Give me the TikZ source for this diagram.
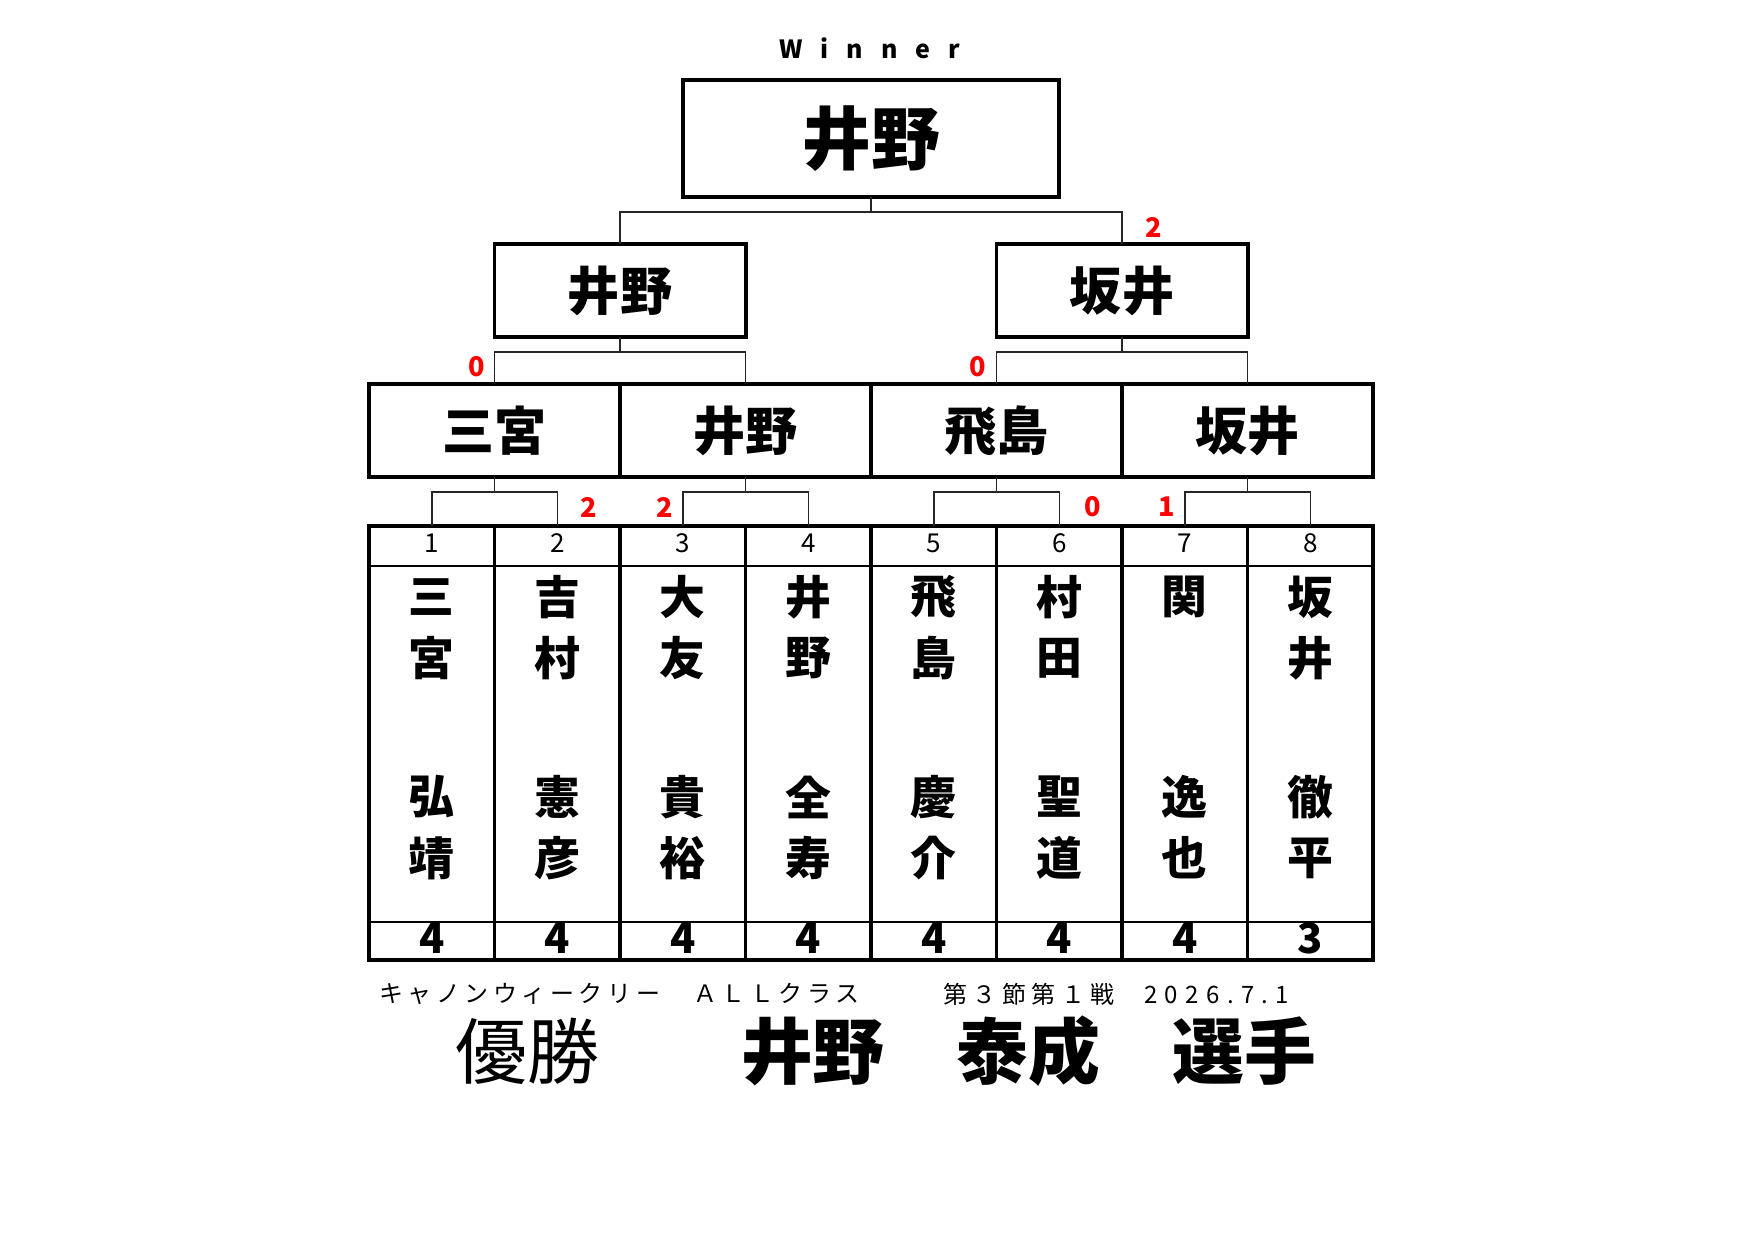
\documentclass[tikz,border=0pt]{standalone}
\usepackage{fontspec}
\setmainfont{Noto Sans CJK JP}
\usetikzlibrary{calc,positioning}

% bracket from a winner box down to its two players
\newcommand{\duel}[3]{%
  \draw[link] (#1.south) -- ++(0,15) coordinate (#1j) (#2.north) |- (#1j) -| (#3.north);}

\begin{document}
\begin{tikzpicture}[x=0.48pt, y=-0.48pt,
    box/.style={draw, line width=1.9pt, inner sep=0pt, outer sep=0pt,
      minimum width=120.5pt, minimum height=44.6pt,
      font=\fontsize{25}{30}\selectfont\bfseries},
    col/.style={draw, line width=1.9pt, inner sep=0pt, outer sep=0pt,
      minimum width=60.24pt, minimum height=208.3pt},
    link/.style={line width=0.72pt, black!85},
    sep/.style={line width=0.72pt},
    gamewin/.style={text=red, inner sep=0pt, font=\fontsize{13}{15}\selectfont\bfseries},
    seat/.style={inner sep=0pt, font=\fontsize{12.5}{14}\selectfont},
    kanji/.style={inner sep=0pt, font=\fontsize{22}{26}\selectfont\bfseries},
    wins/.style={inner sep=0pt, font=\fontsize{20}{24}\selectfont\bfseries},
    tag/.style={inner sep=0pt, anchor=west,
      font=\fontsize{11.5}{14}\selectfont\addfontfeature{LetterSpace=19}}]
  \useasboundingbox (0,0) rectangle (1754,1240);

  % title and champion
  \node[anchor=west, inner sep=0pt,
    font=\fontsize{12}{14}\selectfont\bfseries\addfontfeature{LetterSpace=72}] (win) at (779,48) {Winner};
  \node[box, minimum width=180.5pt, minimum height=56.2pt,
    font=\fontsize{33}{40}\selectfont\bfseries] (fin) at (871,138.5) {井野};

  % semi finals
  \node[box] (sf1) at (620,290.5) {井野};
  \node[box] (sf2) at (1122,290.5) {坂井};

  % quarter finals
  \node[box] (qf1) at (494.5,430.5) {三宮};
  \node[box, right=0pt of qf1] (qf2) {井野};
  \node[box, right=0pt of qf2] (qf3) {飛島};
  \node[box, right=0pt of qf3] (qf4) {坂井};

  % players
  \foreach \i/\surA/\surB/\givA/\givB/\wins in {1/三/宮/弘/靖/4, 2/吉/村/憲/彦/4,
      3/大/友/貴/裕/4, 4/井/野/全/寿/4, 5/飛/島/慶/介/4, 6/村/田/聖/道/4,
      7/関//逸/也/4, 8/坂/井/徹/平/3}{
    \node[col] (col\i) at ({431.75+125.5*(\i-1)},743) {};
    \node[seat] (no\i) at ($(col\i.north)+(0,17)$) {\i};
    \node[kanji] (sa\i) at ($(col\i.north)+(0,71)$) {\surA};
    \node[kanji] (sb\i) at ($(col\i.north)+(0,132)$) {\surB};
    \node[kanji] (ga\i) at ($(col\i.north)+(0,271)$) {\givA};
    \node[kanji] (gb\i) at ($(col\i.north)+(0,332)$) {\givB};
    \node[wins] (pt\i) at ($(col\i.north)+(0,412)$) {\wins};
  }
  \draw[sep] ($(col1.north west)+(0,40)$) -- ($(col8.north east)+(0,40)$);
  \draw[sep] ($(col1.north west)+(0,396)$) -- ($(col8.north east)+(0,396)$);

  % brackets
  \duel{fin}{sf1}{sf2}
  \duel{sf1}{qf1}{qf2}
  \duel{sf2}{qf3}{qf4}
  \duel{qf1}{col1}{col2}
  \duel{qf2}{col3}{col4}
  \duel{qf3}{col5}{col6}
  \duel{qf4}{col7}{col8}

  % games won by the loser
  \node[gamewin] (g1) at ($(sf2.north)+(32,-17)$) {2};
  \node[gamewin] (g2) at ($(qf1.north)+(-18,-17)$) {0};
  \node[gamewin] (g3) at ($(qf3.north)+(-19,-17)$) {0};
  \node[gamewin] (g4) at ($(col2.north)+(31,-19)$) {2};
  \node[gamewin] (g5) at ($(col3.north)+(-18,-19)$) {2};
  \node[gamewin] (g6) at ($(col6.north)+(33,-19)$) {0};
  \node[gamewin] (g7) at ($(col7.north)+(-18,-19)$) {1};

  % footer
  \node[tag] (cls) at (379,994) {キャノンウィークリー　ＡＬＬクラス};
  \node[tag, font=\fontsize{11.5}{14}\selectfont\addfontfeature{LetterSpace=23}] (day) at (943,994)
    {第３節第１戦　{\addfontfeature{LetterSpace=31}2026.7.1}};
  \node[inner sep=0pt, font=\fontsize{34.5}{40}\selectfont] (yu) at (527,1051) {優勝};
  \node[inner sep=0pt, font=\fontsize{34.5}{40}\selectfont\bfseries] (champ) at (1028.5,1051) {井野　泰成　選手};
\end{tikzpicture}
\end{document}
